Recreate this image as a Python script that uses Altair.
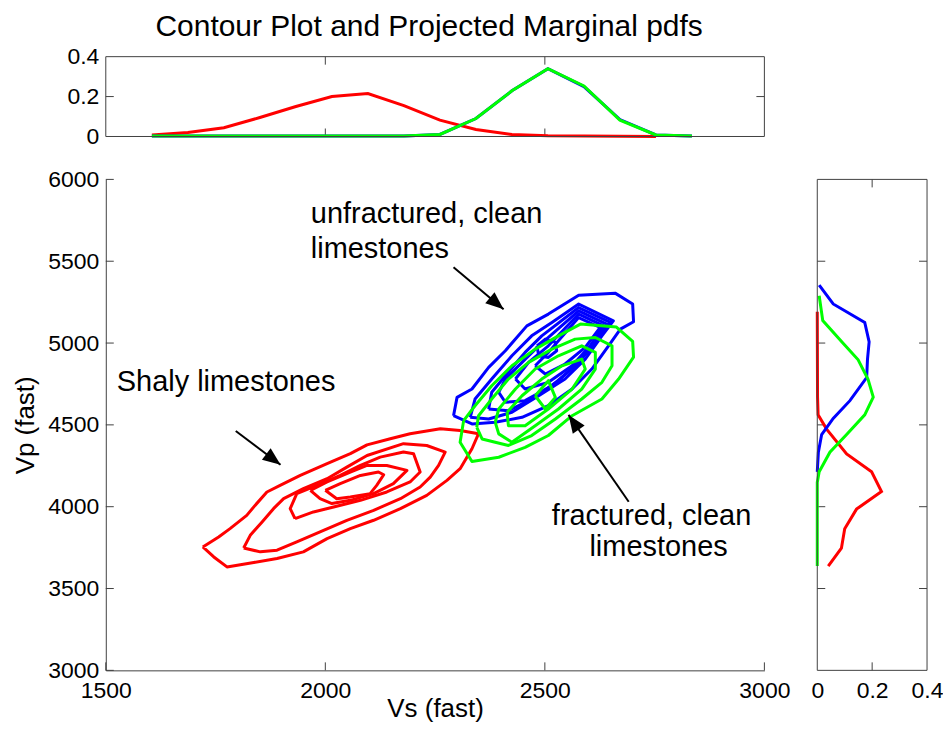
import math
import altair as alt
import pandas as pd

FONT = "Liberation Sans"
RED, GREEN, BLUE = "#ff0000", "#00ff00", "#0000ff"
AX = "#404040"

W_MAIN, H_MAIN = 660, 492
H_TOP = 80
W_RIGHT = 110
GAP_H = 53

# ---------------- data ----------------
# top marginal pdfs (against Vs)
vs_grid = [1605, 1687, 1769, 1851, 1933, 2015, 2097, 2179, 2261, 2343, 2425, 2507, 2589, 2671, 2753, 2835]
red_vs_pdf = [0.008, 0.02, 0.044, 0.095, 0.15, 0.2, 0.215, 0.155, 0.082, 0.035, 0.01, 0.004, 0.002, 0.001, 0.0]
blue_vs_pdf = [0.002, 0.002, 0.002, 0.002, 0.002, 0.002, 0.002, 0.002, 0.01, 0.09, 0.229, 0.34, 0.25, 0.085, 0.008, 0.003]
green_vs_pdf = [0.002, 0.002, 0.002, 0.002, 0.002, 0.002, 0.002, 0.002, 0.01, 0.09, 0.229, 0.34, 0.253, 0.082, 0.008, 0.003]

# right marginal pdfs (against Vp)
red_vp = [3637, 3746, 3865, 3985, 4093, 4213, 4322, 4474, 4561, 4670, 5191]
red_vp_pdf = [0.04, 0.088, 0.1, 0.143, 0.234, 0.198, 0.107, 0.034, 0.003, 0.001, 0.0]
blue_vp = [4213, 4333, 4441, 4539, 4648, 4789, 4900, 5007, 5126, 5239, 5354]
blue_vp_pdf = [0.0, 0.004, 0.016, 0.058, 0.119, 0.18, 0.183, 0.189, 0.173, 0.058, 0.007]
green_vp = [3637, 4148, 4213, 4333, 4441, 4561, 4670, 4778, 4898, 5007, 5137, 5289]
green_vp_pdf = [0.0, 0.0, 0.007, 0.046, 0.107, 0.173, 0.204, 0.185, 0.149, 0.09, 0.02, 0.007]

# contour lines (Vs, Vp) vertices
red_contours = [
    [(1721, 3754), (1757, 3815), (1783, 3866), (1821, 3947), (1840, 4008), (1867, 4090), (1897, 4130),
     (1943, 4191), (2004, 4263), (2057, 4324), (2095, 4378), (2148, 4415), (2193, 4446), (2262, 4476),
     (2307, 4466), (2349, 4446), (2334, 4354), (2307, 4232), (2277, 4161), (2231, 4069), (2171, 3988),
     (2110, 3917), (2057, 3866), (2004, 3805), (1950, 3724), (1890, 3683), (1837, 3659), (1776, 3632),
     (1746, 3693)],
    [(1814, 3748), (1829, 3825), (1856, 3907), (1882, 3988), (1905, 4049), (1950, 4110), (2004, 4171),
     (2049, 4242), (2095, 4313), (2178, 4385), (2231, 4374), (2273, 4334), (2258, 4252), (2239, 4181),
     (2216, 4120), (2171, 4049), (2110, 3978), (2049, 3917), (1988, 3846), (1935, 3785), (1890, 3734),
     (1852, 3724)],
    [(1931, 3927), (1920, 3988), (1935, 4080), (1981, 4130), (2034, 4191), (2080, 4252), (2125, 4303),
     (2178, 4334), (2201, 4324), (2216, 4212), (2193, 4151), (2140, 4090), (2080, 4039), (2019, 3998),
     (1973, 3968)],
    [(1966, 4100), (2004, 4151), (2057, 4212), (2095, 4252), (2140, 4252), (2186, 4222), (2155, 4141),
     (2110, 4080), (2057, 4039), (2015, 4019), (1988, 4049)],
    [(2000, 4100), (2034, 4141), (2080, 4191), (2121, 4212), (2133, 4195), (2117, 4130), (2102, 4080),
     (2057, 4059), (2026, 4049)],
]

blue_contours = [
    [(2292, 4556), (2300, 4668), (2334, 4719), (2372, 4851), (2410, 4953), (2459, 5105), (2508, 5177),
     (2577, 5292), (2660, 5305), (2700, 5238), (2702, 5130), (2672, 5085), (2645, 4983), (2607, 4841),
     (2562, 4719), (2508, 4617), (2448, 4546), (2387, 4516), (2334, 4506)],
    [(2330, 4546), (2341, 4658), (2379, 4780), (2425, 4922), (2470, 5044), (2516, 5126), (2577, 5238),
     (2656, 5136), (2630, 5044), (2592, 4902), (2546, 4780), (2486, 4678), (2425, 4577), (2372, 4536)],
    [(2372, 4597), (2379, 4699), (2410, 4800), (2455, 4943), (2493, 5044), (2577, 5217), (2649, 5126),
     (2622, 5024), (2577, 4882), (2531, 4770), (2470, 4658), (2417, 4587)],
    [(2395, 4699), (2410, 4780), (2448, 4882), (2486, 4983), (2577, 5197), (2641, 5116), (2615, 5004),
     (2569, 4861), (2516, 4739), (2455, 4648), (2410, 4638)],
    [(2433, 4780), (2463, 4882), (2508, 4983), (2577, 5177), (2634, 5105), (2603, 4983), (2562, 4861),
     (2508, 4760), (2455, 4719)],
    [(2478, 4861), (2508, 4943), (2577, 5156), (2626, 5095), (2592, 4973), (2546, 4872), (2501, 4811)],
    [(2482, 4983), (2501, 5024), (2524, 5004), (2527, 4953), (2508, 4912), (2486, 4922)],
]

green_contours = [
    [(2315, 4526), (2307, 4394), (2334, 4276), (2395, 4302), (2455, 4363), (2508, 4435), (2562, 4556),
     (2630, 4658), (2668, 4780), (2702, 4914), (2700, 5010), (2663, 5098), (2581, 5116), (2531, 5044),
     (2478, 4963), (2425, 4861), (2379, 4739), (2341, 4617)],
    [(2345, 4485), (2357, 4414), (2417, 4374), (2470, 4435), (2524, 4536), (2584, 4658), (2630, 4760),
     (2653, 4861), (2653, 4983), (2615, 5034), (2569, 5024), (2516, 4963), (2463, 4882), (2417, 4780),
     (2379, 4658), (2349, 4556)],
    [(2387, 4516), (2395, 4445), (2425, 4394), (2478, 4495), (2531, 4597), (2584, 4719), (2615, 4841),
     (2615, 4943), (2584, 4983), (2531, 4922), (2478, 4841), (2433, 4719), (2395, 4597)],
    [(2414, 4577), (2417, 4495), (2455, 4495), (2508, 4597), (2562, 4719), (2592, 4841), (2584, 4902),
     (2539, 4861), (2493, 4780), (2448, 4678)],
    [(2478, 4678), (2508, 4770), (2524, 4668), (2501, 4597)],
]

# annotations
left_texts = ["unfractured, clean", "limestones", "Shaly limestones"]
left_text_vs = [1967, 1967, 1525]
left_text_vp = [5787, 5573, 4762]
center_texts = ["fractured, clean", "limestones"]
center_text_vs = [2743, 2759]
center_text_vp = [3945, 3756]

arrow_tail_vs = [2292, 1796, 2691]
arrow_tail_vp = [5463, 4463, 4030]
arrow_tip_vs = [2406, 1898, 2554]
arrow_tip_vp = [5207, 4256, 4561]

# ticks
x_ticks = [1500, 2000, 2500, 3000]
y_ticks = [3000, 3500, 4000, 4500, 5000, 5500, 6000]
pdf_ticks = [0, 0.2, 0.4]
X_DOM = [1500, 3000]
Y_DOM = [3000, 6000]
P_DOM = [0, 0.4]
TICK = 8

# ---------------- helpers ----------------
def contour_df(contours):
    rows = []
    for k, poly in enumerate(contours):
        pts = list(poly) + [poly[0]]
        for i, (a, b) in enumerate(pts):
            rows.append({"lev": k, "ord": i, "Vs": a, "Vp": b})
    return pd.DataFrame(rows)

xs = alt.Scale(domain=X_DOM, nice=False, zero=False)
ys = alt.Scale(domain=Y_DOM, nice=False, zero=False)
ps = alt.Scale(domain=P_DOM, nice=False, zero=True)

ax_x = alt.Axis(values=x_ticks, format="d", title="Vs (fast)", tickSize=0, ticks=False, domain=True,
                domainColor=AX, labelPadding=9, titlePadding=-7, grid=False)
ax_y = alt.Axis(values=y_ticks, format="d", title="Vp (fast)", tickSize=0, ticks=False, domain=True,
                domainColor=AX, labelPadding=7, titlePadding=9, grid=False)

X = alt.X("Vs:Q", scale=xs, axis=ax_x)
Y = alt.Y("Vp:Q", scale=ys, axis=ax_y)

# ---------------- main plot ----------------
def contour_layer(contours, color):
    return alt.Chart(contour_df(contours)).mark_line(color=color, strokeWidth=3, strokeJoin="round").encode(
        x=X, y=Y, detail="lev:N", order="ord:Q")

tx_df = pd.DataFrame({"Vs": x_ticks})
ty_df = pd.DataFrame({"Vp": y_ticks})
main_ticks_x = alt.Chart(tx_df).mark_rule(color=AX, strokeWidth=1).encode(
    x=X, y=alt.value(H_MAIN), y2=alt.value(H_MAIN - TICK))
main_ticks_y = alt.Chart(ty_df).mark_rule(color=AX, strokeWidth=1).encode(
    y=Y, x=alt.value(0), x2=alt.value(TICK))

ltxt = pd.DataFrame({"t": left_texts, "Vs": left_text_vs, "Vp": left_text_vp})
ctxt = pd.DataFrame({"t": center_texts, "Vs": center_text_vs, "Vp": center_text_vp})
txt_left = alt.Chart(ltxt).mark_text(align="left", baseline="middle", font=FONT, fontSize=29,
                                     color="black").encode(x=X, y=Y, text="t:N")
txt_center = alt.Chart(ctxt).mark_text(align="center", baseline="middle", font=FONT, fontSize=29,
                                       color="black").encode(x=X, y=Y, text="t:N")

arr_rows = []
head_rows = []
for i in range(len(arrow_tail_vs)):
    arr_rows.append({"a": i, "ord": 0, "Vs": arrow_tail_vs[i], "Vp": arrow_tail_vp[i]})
    arr_rows.append({"a": i, "ord": 1, "Vs": arrow_tip_vs[i], "Vp": arrow_tip_vp[i]})
    dx = (arrow_tip_vs[i] - arrow_tail_vs[i]) * W_MAIN / (X_DOM[1] - X_DOM[0])
    dy = -(arrow_tip_vp[i] - arrow_tail_vp[i]) * H_MAIN / (Y_DOM[1] - Y_DOM[0])
    ang = math.degrees(math.atan2(dx, -dy)) % 360
    head_rows.append({"Vs": arrow_tip_vs[i], "Vp": arrow_tip_vp[i], "ang": ang})
arrow_lines = alt.Chart(pd.DataFrame(arr_rows)).mark_line(color="black", strokeWidth=2).encode(
    x=X, y=Y, detail="a:N", order="ord:Q")
arrow_heads = alt.Chart(pd.DataFrame(head_rows)).mark_point(
    shape="M0,0 L-0.85,2.1 L0.85,2.1 Z", filled=True, color="black", size=290, opacity=1, strokeWidth=0
).encode(x=X, y=Y, angle=alt.Angle("ang:Q", scale=None))

main = alt.layer(
    main_ticks_x, main_ticks_y,
    contour_layer(red_contours, RED),
    contour_layer(blue_contours, BLUE),
    contour_layer(green_contours, GREEN),
    arrow_lines, arrow_heads, txt_left, txt_center,
).properties(width=W_MAIN, height=H_MAIN)

# ---------------- top marginal ----------------
ax_top_y = alt.Axis(values=pdf_ticks, format="~g", title=None, tickSize=0, ticks=False, domain=False,
                    labelPadding=7, grid=False)
TX = alt.X("Vs:Q", scale=xs, axis=None)
TY = alt.Y("pdf:Q", scale=ps, axis=ax_top_y)

def top_line(pdf, color):
    df = pd.DataFrame({"Vs": vs_grid[:len(pdf)], "pdf": pdf})
    return alt.Chart(df).mark_line(color=color, strokeWidth=3).encode(x=TX, y=TY, order="Vs:Q")

box_df = pd.DataFrame({"b": [0]})
top_box = alt.Chart(box_df).mark_rect(fillOpacity=0, stroke=AX, strokeWidth=1).encode(
    x=alt.value(0), x2=alt.value(W_MAIN), y=alt.value(0), y2=alt.value(H_TOP))
tmid_x = pd.DataFrame({"Vs": x_ticks[1:-1]})
tmid_p = pd.DataFrame({"pdf": pdf_ticks[1:-1]})
top_ticks = [
    alt.Chart(tmid_x).mark_rule(color=AX).encode(x=TX, y=alt.value(0), y2=alt.value(TICK)),
    alt.Chart(tmid_x).mark_rule(color=AX).encode(x=TX, y=alt.value(H_TOP), y2=alt.value(H_TOP - TICK)),
    alt.Chart(tmid_p).mark_rule(color=AX).encode(y=TY, x=alt.value(0), x2=alt.value(TICK)),
    alt.Chart(tmid_p).mark_rule(color=AX).encode(y=TY, x=alt.value(W_MAIN), x2=alt.value(W_MAIN - TICK)),
]
top = alt.layer(
    *top_ticks,
    top_line(red_vs_pdf, RED), top_line(blue_vs_pdf, BLUE), top_line(green_vs_pdf, GREEN),
    top_box,
).properties(width=W_MAIN, height=H_TOP,
             title=alt.TitleParams("Contour Plot and Projected Marginal pdfs", offset=4, anchor="middle",
                                   dx=-6))

# ---------------- right marginal ----------------
ax_r_x = alt.Axis(values=pdf_ticks, format="~g", title=None, tickSize=0, ticks=False, domain=False,
                  labelPadding=9, grid=False)
RX = alt.X("pdf:Q", scale=ps, axis=ax_r_x)
RY = alt.Y("Vp:Q", scale=ys, axis=None)

def right_line(vp, pdf, color):
    df = pd.DataFrame({"Vp": vp, "pdf": pdf})
    return alt.Chart(df).mark_line(color=color, strokeWidth=3).encode(x=RX, y=RY, order="Vp:Q")

right_box = alt.Chart(box_df).mark_rect(fillOpacity=0, stroke=AX, strokeWidth=1).encode(
    x=alt.value(0), x2=alt.value(W_RIGHT), y=alt.value(0), y2=alt.value(H_MAIN))
rmid_y = pd.DataFrame({"Vp": y_ticks[1:-1]})
right_ticks = [
    alt.Chart(tmid_p).mark_rule(color=AX).encode(x=RX, y=alt.value(0), y2=alt.value(TICK)),
    alt.Chart(tmid_p).mark_rule(color=AX).encode(x=RX, y=alt.value(H_MAIN), y2=alt.value(H_MAIN - TICK)),
    alt.Chart(rmid_y).mark_rule(color=AX).encode(y=RY, x=alt.value(0), x2=alt.value(TICK)),
    alt.Chart(rmid_y).mark_rule(color=AX).encode(y=RY, x=alt.value(W_RIGHT), x2=alt.value(W_RIGHT - TICK)),
]
right = alt.layer(
    *right_ticks,
    right_line(red_vp, red_vp_pdf, RED),
    right_line(blue_vp, blue_vp_pdf, BLUE),
    right_line(green_vp, green_vp_pdf, GREEN),
    right_box,
).properties(width=W_RIGHT, height=H_MAIN)

row = alt.hconcat(main, right, spacing=GAP_H, bounds="flush")
chart = alt.vconcat(top, row, spacing=43, bounds="flush").properties(
    padding={"left": 4, "top": 3, "right": 0, "bottom": 0}
).configure_view(stroke=None).configure_axis(
    labelFont=FONT, titleFont=FONT, labelFontSize=23, titleFontSize=26, labelColor="black",
    titleColor="black", titleFontWeight="normal", grid=False, labelFlush=False, labelOverlap=False
).configure_title(font=FONT, fontSize=30, fontWeight="normal", color="black")

chart.save("out.html", embed_options={"renderer": "svg", "actions": False})
